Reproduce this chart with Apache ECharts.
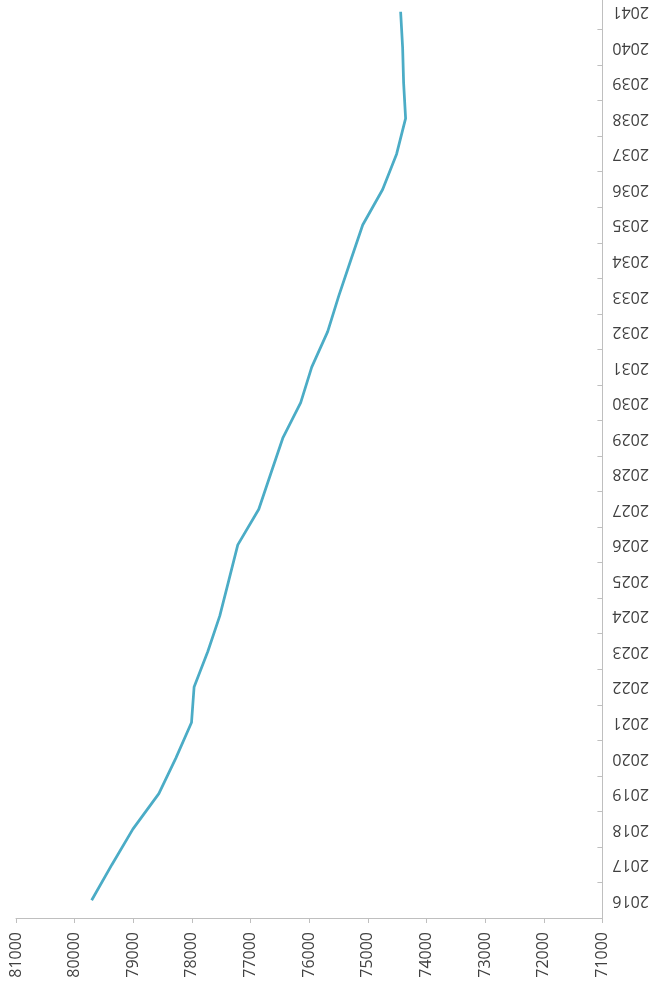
<!DOCTYPE html>
<html>
<head>
<meta charset="utf-8">
<script src="https://cdn.jsdelivr.net/npm/echarts@6/dist/echarts.min.js"></script>
<style>
html,body{margin:0;padding:0;background:#fff;overflow:hidden;width:652px;height:999px;}
#chart{position:absolute;left:0;top:-6px;width:652px;height:1005px;}
</style>
</head>
<body>
<div id="chart"></div>
<script>
var years = ['2016','2017','2018','2019','2020','2021','2022','2023','2024','2025','2026','2027','2028','2029','2030','2031','2032','2033','2034','2035','2036','2037','2038','2039','2040','2041'];
var values = [79710,79365,79007,78564,78274,78007,77963,77729,77525,77371,77218,76860,76656,76451,76145,75957,75685,75497,75293,75088,74748,74509,74356,74390,74407,74441];
var valueMin = 71000, valueMax = 81000, valueStep = 1000;

var chart = echarts.init(document.getElementById('chart'));
chart.setOption({
  animation: false,
  backgroundColor: '#ffffff',
  grid: {left: 16, right: 49, top: 0, bottom: 81, containLabel: false},
  xAxis: {
    type: 'value', position: 'bottom', inverse: true,
    min: valueMin, max: valueMax, interval: valueStep,
    axisLine: {show: true, lineStyle: {color: '#bfbfbf', width: 1}},
    axisTick: {show: true, length: 5, lineStyle: {color: '#bfbfbf'}},
    splitLine: {show: false},
    axisLabel: {rotate: 90, margin: 14, color: '#404040', fontFamily: 'Open Sans', fontSize: 16,
      formatter: function (v) { return String(v); }}
  },
  yAxis: {
    type: 'category', position: 'right', data: years, boundaryGap: true,
    axisLine: {show: true, lineStyle: {color: '#bfbfbf', width: 1}},
    axisTick: {show: true, inside: true, length: 5, lineStyle: {color: '#bfbfbf'}},
    splitLine: {show: false},
    axisLabel: {rotate: 180, margin: 10, color: '#404040', fontFamily: 'Open Sans', fontSize: 16}
  },
  series: [{
    type: 'line', data: values, showSymbol: false, symbol: 'none',
    lineStyle: {color: '#4bacc6', width: 2.75}, itemStyle: {color: '#4bacc6'}
  }]
});
</script>
</body>
</html>
